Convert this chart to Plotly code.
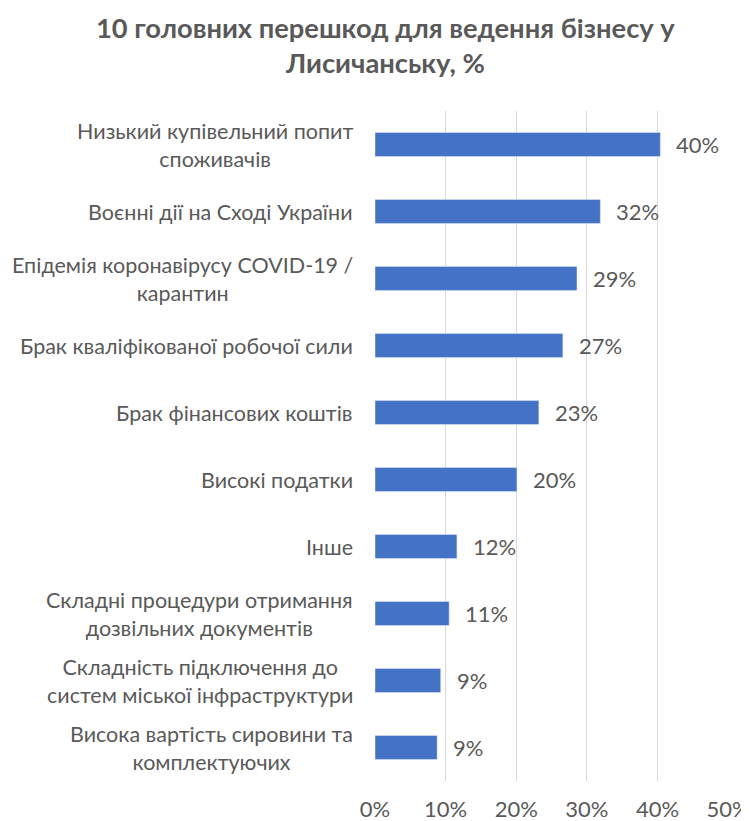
"""Горизонтальна стовпчикова діаграма: перешкоди для бізнесу."""

import plotly.graph_objects as go

# Дані, зверху вниз
categories = [
    "Низький купівельний попит<br>споживачів",
    "Воєнні дії на Сході України",
    "Епідемія коронавірусу COVID-19 /<br>карантин",
    "Брак кваліфікованої робочої сили",
    "Брак фінансових коштів",
    "Високі податки",
    "Інше",
    "Складні процедури отримання<br>дозвільних документів",
    "Складність підключення до<br>систем міської інфраструктури",
    "Висока вартість сировини та<br>комплектуючих",
]
values = [0.404, 0.319, 0.286, 0.266, 0.232, 0.201, 0.116, 0.105, 0.093, 0.088]
labels = ["40%", "32%", "29%", "27%", "23%", "20%", "12%", "11%", "9%", "9%"]
x_ticks = [0, 0.1, 0.2, 0.3, 0.4, 0.5]
x_tick_text = ["0%", "10%", "20%", "30%", "40%", "50%"]

FONT = "Lato, 'Open Sans', sans-serif"
GREY = "#595959"
TXT = 22

fig = go.Figure()
fig.add_trace(go.Bar(
    y=categories, x=values, orientation="h",
    marker_color="#4472C4", width=0.36,
    hoverinfo="skip", showlegend=False,
))

# Підписи значень праворуч від стовпчиків
for cat, v, lab in zip(categories, values, labels):
    fig.add_annotation(x=v, y=cat, text=lab, showarrow=False,
                       xanchor="left", xshift=14,
                       font=dict(size=TXT, color=GREY, family=FONT))

# Підписи категорій (по центру, як у Excel)
for cat in categories:
    fig.add_annotation(x=0, xref="paper", y=cat, text=cat, showarrow=False,
                       xanchor="right", xshift=-20, align="center",
                       font=dict(size=21.5, color=GREY, family=FONT))

# Заголовок
fig.add_annotation(
    text="<b>10 головних перешкод для ведення бізнесу у<br>Лисичанську, %</b>",
    x=0.5, xref="paper", y=1, yref="paper", xanchor="center", yanchor="middle",
    xshift=-167, yshift=66, showarrow=False, align="center",
    font=dict(size=27.3, color=GREY, family=FONT),
)

# сторінка має відступ body 8px, тому фігура трохи менша
fig.update_layout(
    width=741, height=813,
    margin=dict(l=367, r=20, t=103, b=40),
    plot_bgcolor="white", paper_bgcolor="white",
    xaxis=dict(range=[0, 0.5012], tickvals=x_ticks, ticktext=x_tick_text,
               showgrid=True, gridcolor="#d9d9d9", gridwidth=1.3,
               zeroline=False, showline=False, ticks="",
               ticklabelstandoff=13, ticklabeloverflow="allow",
               automargin=False,
               tickfont=dict(size=TXT, color=GREY, family=FONT)),
    yaxis=dict(autorange="reversed", showticklabels=False, showgrid=False,
               zeroline=False, showline=False, ticks="", automargin=False),
)

fig.write_html("out.html")
